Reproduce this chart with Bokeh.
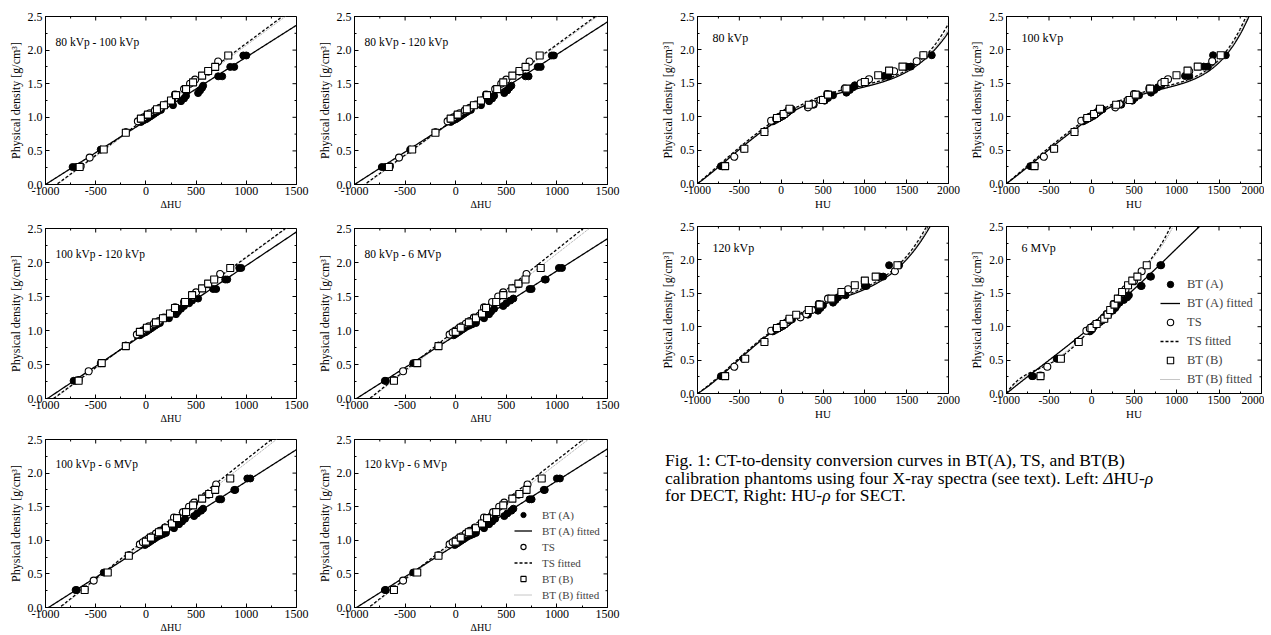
import numpy as np
from bokeh.plotting import figure
from bokeh.models import (Range1d, FixedTicker, Label, Legend, LegendItem,
                          Div, PrintfTickFormatter)
from bokeh.layouts import row, column
from bokeh.embed import file_html
from bokeh.resources import INLINE

FONT = "Liberation Serif"

# ---------------- densities of the phantom inserts ----------------
RHO_A = [0.26, 0.26, 0.52, 0.78, 0.93, 0.95, 0.97, 0.99, 1.01, 1.03, 1.05, 1.07, 1.09, 1.11,
         1.18, 1.24, 1.28, 1.32, 1.36, 1.40, 1.44, 1.47, 1.61, 1.61, 1.75, 1.75, 1.92, 1.92]
RHO_TS = [0.27, 0.40, 0.94, 0.97, 1.00, 1.03, 1.06, 1.10, 1.14, 1.19, 1.25, 1.34, 1.42, 1.50,
          1.56, 1.68, 1.83]
RHO_B = [0.26, 0.52, 0.77, 0.98, 1.04, 1.12, 1.18, 1.25, 1.33, 1.42, 1.52, 1.62, 1.69, 1.75, 1.92]

# ---------------- DECT (Delta HU) ----------------
dect_80_100_A = [-730, -700, -450, -200, -50, -30, 0, 20, 40, 60, 80, 100, 120, 150, 270, 350, 380, 400, 520, 540, 560, 570, 720, 760, 840, 880, 970, 1000]
dect_80_100_TS = [-650, -560, -80, -50, -20, 10, 40, 90, 140, 200, 260, 290, 380, 440, 490, 620, 720]
dect_80_100_B = [-660, -420, -200, -50, 20, 110, 180, 250, 300, 400, 470, 560, 620, 690, 820]

dect_80_120_A = [-730, -700, -450, -200, -50, -30, 0, 20, 40, 60, 80, 100, 120, 150, 250, 330, 360, 380, 480, 510, 530, 550, 690, 720, 810, 840, 950, 970]
dect_80_120_TS = [-650, -560, -80, -50, -20, 10, 40, 90, 140, 200, 260, 300, 390, 450, 500, 630, 730]
dect_80_120_B = [-660, -430, -200, -50, 20, 110, 180, 250, 310, 410, 470, 560, 630, 690, 830]

dect_100_120_A = [-720, -700, -450, -200, -60, -40, -10, 10, 30, 50, 70, 90, 110, 140, 230, 300, 320, 350, 380, 430, 460, 520, 670, 700, 790, 810, 930, 950]
dect_100_120_TS = [-670, -570, -90, -60, -30, 0, 30, 80, 130, 180, 250, 290, 380, 470, 500, 620, 740]
dect_100_120_B = [-670, -440, -200, -60, 10, 100, 170, 240, 290, 390, 460, 560, 620, 680, 840]

dect_80_6_A = [-700, -690, -420, -170, -20, 0, 20, 40, 60, 80, 100, 130, 160, 200, 280, 330, 350, 380, 470, 500, 540, 570, 730, 750, 880, 890, 1020, 1050]
dect_80_6_TS = [-610, -520, -60, -30, 0, 30, 60, 100, 140, 180, 260, 280, 360, 420, 470, 620, 700]
dect_80_6_B = [-610, -380, -170, 0, 50, 130, 200, 260, 300, 400, 470, 560, 620, 690, 840]

dect_100_6_A = [-700, -690, -420, -170, -10, 10, 30, 50, 70, 90, 110, 140, 170, 200, 280, 330, 360, 390, 480, 510, 550, 570, 730, 750, 880, 890, 1010, 1040]
dect_100_6_TS = [-610, -520, -60, -30, 0, 30, 60, 100, 140, 190, 260, 280, 370, 430, 480, 620, 700]
dect_100_6_B = [-610, -380, -170, 0, 50, 130, 200, 260, 310, 400, 470, 560, 630, 690, 840]

dect_120_6_A = [-700, -690, -420, -170, -10, 10, 30, 50, 70, 90, 110, 140, 170, 200, 280, 330, 360, 390, 480, 510, 550, 570, 730, 750, 870, 880, 1000, 1030]
dect_120_6_TS = [-610, -520, -60, -30, 0, 30, 60, 100, 140, 190, 260, 280, 370, 430, 480, 620, 710]
dect_120_6_B = [-610, -380, -170, 0, 50, 130, 200, 260, 310, 400, 470, 560, 630, 700, 850]

# ---------------- SECT (HU) ----------------
sect_80_A = [-720, -700, -450, -200, -100, -70, -40, -10, 20, 40, 60, 80, 100, 130, 390, 520, 560, 620, 780, 820, 860, 880, 1230, 1280, 1500, 1550, 1700, 1800]
sect_80_TS = [-670, -560, -120, -60, -20, 20, 60, 90, 320, 380, 470, 550, 760, 950, 1050, 1350, 1620]
sect_80_B = [-670, -440, -200, -50, 30, 100, 330, 500, 560, 780, 1000, 1160, 1290, 1450, 1700]

sect_100_A = [-720, -700, -450, -200, -100, -70, -40, -10, 20, 40, 60, 80, 100, 130, 350, 480, 510, 560, 700, 740, 780, 820, 1100, 1150, 1320, 1370, 1430, 1580]
sect_100_TS = [-670, -560, -120, -60, -20, 20, 60, 90, 280, 330, 430, 500, 680, 820, 900, 1150, 1420]
sect_100_B = [-670, -440, -200, -50, 30, 100, 290, 450, 520, 690, 860, 1000, 1130, 1250, 1520]

sect_120_A = [-720, -700, -450, -200, -100, -70, -40, -10, 20, 40, 60, 80, 100, 130, 320, 440, 470, 500, 620, 650, 680, 770, 1000, 1020, 1180, 1220, 1290, 1410]
sect_120_TS = [-670, -560, -120, -60, -20, 20, 60, 90, 230, 300, 370, 450, 560, 720, 800, 1000, 1360]
sect_120_B = [-670, -430, -200, -50, 30, 100, 180, 330, 460, 600, 720, 880, 1000, 1130, 1390]

sect_6_A = [-700, -690, -410, -165, -20, 0, 10, 20, 30, 50, 70, 100, 120, 150, 200, 250, 280, 300, 330, 380, 420, 440, 580, 590, 690, 700, 810, 820]
sect_6_TS = [-600, -520, -60, -20, 10, 40, 80, 120, 150, 180, 230, 260, 320, 370, 400, 500, 590]
sect_6_B = [-600, -360, -150, 0, 60, 150, 190, 220, 270, 310, 360, 430, 480, 540, 650]

# ---------------- fitted curves (read as knots: x, rho) ----------------
fit_dect_80_100 = {"A": ([-1000, 1500], [0.0, 2.37]), "TS": ([-890, 1360], [0.0, 2.5]), "B": ([-880, 1390], [0.0, 2.5])}
fit_dect_80_120 = {"A": ([-1000, 1500], [0.0, 2.42]), "TS": ([-900, 1380], [0.0, 2.5]), "B": ([-890, 1400], [0.0, 2.5])}
fit_dect_100_120 = {"A": ([-980, 1500], [0.0, 2.45]), "TS": ([-920, 1390], [0.0, 2.5]), "B": ([-910, 1400], [0.0, 2.5])}
fit_dect_80_6 = {"A": ([-980, 1500], [0.0, 2.35]), "TS": ([-850, 1260], [0.0, 2.5]), "B": ([-840, 1320], [0.0, 2.5])}
fit_dect_100_6 = {"A": ([-970, 1500], [0.0, 2.35]), "TS": ([-860, 1250], [0.0, 2.5]), "B": ([-850, 1300], [0.0, 2.5])}
fit_dect_120_6 = {"A": ([-980, 1500], [0.0, 2.36]), "TS": ([-860, 1260], [0.0, 2.5]), "B": ([-850, 1310], [0.0, 2.5])}

KX8 = [-1000, -500, 0, 500, 1000, 1500, 1750, 2000]
fit_sect_80 = {"A": (KX8, [0, 0.50, 1.00, 1.25, 1.46, 1.68, 1.88, 2.27]),
               "TS": (KX8, [0, 0.53, 1.03, 1.29, 1.49, 1.71, 1.93, 2.40]),
               "B": (KX8, [0, 0.52, 1.02, 1.27, 1.48, 1.70, 1.90, 2.32])}
KX100 = [-1000, -500, 0, 500, 1000, 1250, 1500, 1700, 1850]
fit_sect_100 = {"A": (KX100, [0, 0.50, 1.00, 1.27, 1.48, 1.60, 1.80, 2.12, 2.50]),
                "TS": (KX100, [0, 0.53, 1.03, 1.30, 1.51, 1.63, 1.84, 2.20, 2.60]),
                "B": (KX100, [0, 0.52, 1.02, 1.28, 1.50, 1.62, 1.82, 2.16, 2.55])}
KX120 = [-1000, -500, 0, 500, 1000, 1250, 1500, 1650, 1780]
fit_sect_120 = {"A": (KX120, [0, 0.51, 1.02, 1.32, 1.57, 1.73, 2.00, 2.25, 2.50]),
                "TS": (KX120, [0, 0.53, 1.04, 1.34, 1.60, 1.76, 2.05, 2.32, 2.60]),
                "B": (KX120, [0, 0.52, 1.03, 1.33, 1.58, 1.75, 2.02, 2.28, 2.55])}
fit_sect_6 = {"A": ([-1000, -500, 0, 400, 800, 1270], [0, 0.50, 1.00, 1.45, 1.92, 2.50]),
              "TS": ([-1000, -500, 0, 300, 500, 650, 930], [0, 0.44, 0.98, 1.42, 1.72, 1.93, 2.50]),
              "B": ([-1000, -500, 0, 300, 500, 650, 960], [0, 0.45, 0.99, 1.41, 1.70, 1.91, 2.50])}

YLABEL = "Physical density [g/cm³]"
LEGEND_LABELS = ["BT (A)", "BT (A) fitted", "TS", "TS fitted", "BT (B)", "BT (B) fitted"]
CAPTION = ("Fig. 1: CT-to-density conversion curves in BT(A), TS, and BT(B)<br>"
           "calibration phantoms using four X-ray spectra (see text). Left: <i>&Delta;</i>HU-<i>&rho;</i><br>"
           "for DECT, Right: HU-<i>&rho;</i> for SECT.")


def fit_curve(knots, x0, x1):
    kx = np.asarray(knots[0], float) / 1000.0
    ky = np.asarray(knots[1], float)
    n = len(kx)
    deg = 1 if n == 2 else min(n - 2, 5)
    coef = np.polyfit(kx, ky, deg)
    xs = np.linspace(x0, x1, 700)
    ys = np.polyval(coef, xs / 1000.0)
    over = np.nonzero(ys > 2.6)[0]
    if len(over):
        k = over[0] + 1
        xs, ys = xs[:k], ys[:k]
    return xs, ys


def style_axis(ax, size):
    ax.major_label_text_font = FONT
    ax.major_label_text_font_size = size
    ax.major_label_text_color = "black"
    ax.axis_label_text_font = FONT
    ax.axis_label_text_font_style = "normal"
    ax.axis_label_text_color = "black"
    ax.axis_line_color = "black"
    ax.major_tick_in = 4
    ax.major_tick_out = 0
    ax.minor_tick_in = 2
    ax.minor_tick_out = 0
    ax.major_tick_line_color = "black"
    ax.minor_tick_line_color = "black"


def make_panel(label, xa, xts, xb, fits, xmax, fw, fh, bl, br, bt, bb, xlab,
               tick_size, lab_size, xlab_size, ann_size, ann_dx, ann_dy,
               legend=None):
    p = figure(width=bl + fw + br, height=bt + fh + bb,
               x_range=Range1d(-1000, xmax), y_range=Range1d(0, 2.5),
               output_backend="svg", toolbar_location=None,
               min_border_left=bl, min_border_right=br, min_border_top=bt, min_border_bottom=bb)
    p.background_fill_color = "white"
    p.border_fill_color = "white"
    p.outline_line_color = "black"
    p.outline_line_width = 1
    p.xgrid.visible = False
    p.ygrid.visible = False

    xt = list(range(-1000, xmax + 1, 500))
    xm = list(range(-1000, xmax + 1, 250))
    yt = [0.0, 0.5, 1.0, 1.5, 2.0, 2.5]
    ym = [0.25 * i for i in range(11)]

    p.xaxis.ticker = FixedTicker(ticks=xt, minor_ticks=xm)
    p.yaxis.ticker = FixedTicker(ticks=yt, minor_ticks=ym)
    p.xaxis.formatter = PrintfTickFormatter(format="%d")
    p.yaxis.formatter = PrintfTickFormatter(format="%.1f")
    for ax in (p.xaxis[0], p.yaxis[0]):
        style_axis(ax, tick_size)
    p.xaxis.axis_label = xlab
    p.xaxis.axis_label_text_font_size = xlab_size
    p.xaxis.axis_label_standoff = 1
    p.xaxis.major_label_standoff = 2
    p.yaxis.axis_label = YLABEL
    p.yaxis.axis_label_text_font_size = lab_size
    p.yaxis.axis_label_standoff = 2
    p.yaxis.major_label_standoff = 3

    # mirrored inward ticks on top and right edges
    minor_x = [v for v in xm if v not in xt]
    minor_y = [v for v in ym if v not in yt]
    p.ray(x=xt, y=[2.5] * len(xt), length=4, length_units="screen", angle=-np.pi / 2, line_color="black", line_width=1)
    p.ray(x=minor_x, y=[2.5] * len(minor_x), length=2, length_units="screen", angle=-np.pi / 2, line_color="black", line_width=1)
    p.ray(x=[xmax] * len(yt), y=yt, length=4, length_units="screen", angle=np.pi, line_color="black", line_width=1)
    p.ray(x=[xmax] * len(minor_y), y=minor_y, length=2, length_units="screen", angle=np.pi, line_color="black", line_width=1)

    fA = fit_curve(fits["A"], -1000, xmax)
    fT = fit_curve(fits["TS"], -1000, xmax)
    fB = fit_curve(fits["B"], -1000, xmax)
    lB = p.line(fB[0], fB[1], line_color="#8c8c8c", line_width=1, line_dash="1 1")
    lT = p.line(fT[0], fT[1], line_color="black", line_width=1.3, line_dash="3 2")
    lA = p.line(fA[0], fA[1], line_color="black", line_width=1.3)

    sA = p.scatter(xa, RHO_A, marker="circle", size=7, fill_color="black", line_color="black")
    sT = p.scatter(xts, RHO_TS, marker="circle", size=7, fill_color="white", line_color="black", line_width=1.1)
    sB = p.scatter(xb, RHO_B, marker="square", size=7, fill_color="white", line_color="black", line_width=1.1)

    p.add_layout(Label(x=ann_dx, y=fh - ann_dy, x_units="screen", y_units="screen", text=label,
                       text_font=FONT, text_font_size=ann_size, text_baseline="middle",
                       text_color="black"))

    if legend is not None:
        rends = [sA, lA, sT, lT, sB, lB]
        items = [LegendItem(label=t, renderers=[r]) for t, r in zip(LEGEND_LABELS, rends)]
        lg = Legend(items=items, location=legend["loc"], padding=0, margin=0,
                    spacing=3, glyph_width=legend["gw"], glyph_height=legend["gh"],
                    label_height=legend["gh"], label_standoff=legend["standoff"],
                    label_text_font=FONT, label_text_font_size=legend["size"],
                    border_line_alpha=0, background_fill_alpha=0)
        p.add_layout(lg)
    return p


L = dict(tick_size="12px", lab_size="12px", xlab_size="10px", ann_size="11.5px", ann_dx=10, ann_dy=25)
R = dict(tick_size="11.5px", lab_size="12px", xlab_size="11px", ann_size="12px", ann_dx=15, ann_dy=21)
DX = "ΔHU"

# left grid (DECT): frames at x 45-296 / 351-607, y 16-184 / 228-398 / 439-608
l11 = make_panel("80 kVp - 100 kVp", dect_80_100_A, dect_80_100_TS, dect_80_100_B, fit_dect_80_100, 1500,
                 251, 168, 45, 18, 16, 36, DX, **L)
l12 = make_panel("80 kVp - 120 kVp", dect_80_120_A, dect_80_120_TS, dect_80_120_B, fit_dect_80_120, 1500,
                 256, 168, 37, 18, 16, 36, DX, **L)
l21 = make_panel("100 kVp - 120 kVp", dect_100_120_A, dect_100_120_TS, dect_100_120_B, fit_dect_100_120, 1500,
                 251, 170, 45, 18, 8, 33, DX, **L)
l22 = make_panel("80 kVp - 6 MVp", dect_80_6_A, dect_80_6_TS, dect_80_6_B, fit_dect_80_6, 1500,
                 256, 170, 37, 18, 8, 33, DX, **L)
l31 = make_panel("100 kVp - 6 MVp", dect_100_6_A, dect_100_6_TS, dect_100_6_B, fit_dect_100_6, 1500,
                 251, 169, 45, 18, 8, 27, DX, **L)
l32 = make_panel("120 kVp - 6 MVp", dect_120_6_A, dect_120_6_TS, dect_120_6_B, fit_dect_120_6, 1500,
                 256, 169, 37, 18, 8, 27, DX,
                 legend=dict(loc=(160, 6), gw=18, gh=13, standoff=10, size="11px"), **L)

# right grid (SECT): frames at x 697-948 / 1006-1261, y 16-183 / 226-393
r11 = make_panel("80 kVp", sect_80_A, sect_80_TS, sect_80_B, fit_sect_80, 2000,
                 251, 167, 72, 18, 16, 35, "HU", **R)
r12 = make_panel("100 kVp", sect_100_A, sect_100_TS, sect_100_B, fit_sect_100, 2000,
                 255, 167, 40, 3, 16, 35, "HU", **R)
r21 = make_panel("120 kVp", sect_120_A, sect_120_TS, sect_120_B, fit_sect_120, 2000,
                 251, 167, 72, 18, 8, 35, "HU", **R)
r22 = make_panel("6 MVp", sect_6_A, sect_6_TS, sect_6_B, fit_sect_6, 2000,
                 255, 167, 40, 3, 8, 35, "HU",
                 legend=dict(loc=(154, 6), gw=20, gh=16, standoff=7, size="12.5px"), **R)

caption = Div(text=CAPTION, width=600, height=60, margin=(24, 0, 0, 40),
              styles={"font-family": FONT, "font-size": "17.5px", "line-height": "17.5px",
                      "color": "black", "white-space": "nowrap"})

left = column(row(l11, l12), row(l21, l22), row(l31, l32))
right = column(row(r11, r12), row(r21, r22), caption)
page = row(left, right)

open("out.html", "w").write(file_html(page, INLINE))
